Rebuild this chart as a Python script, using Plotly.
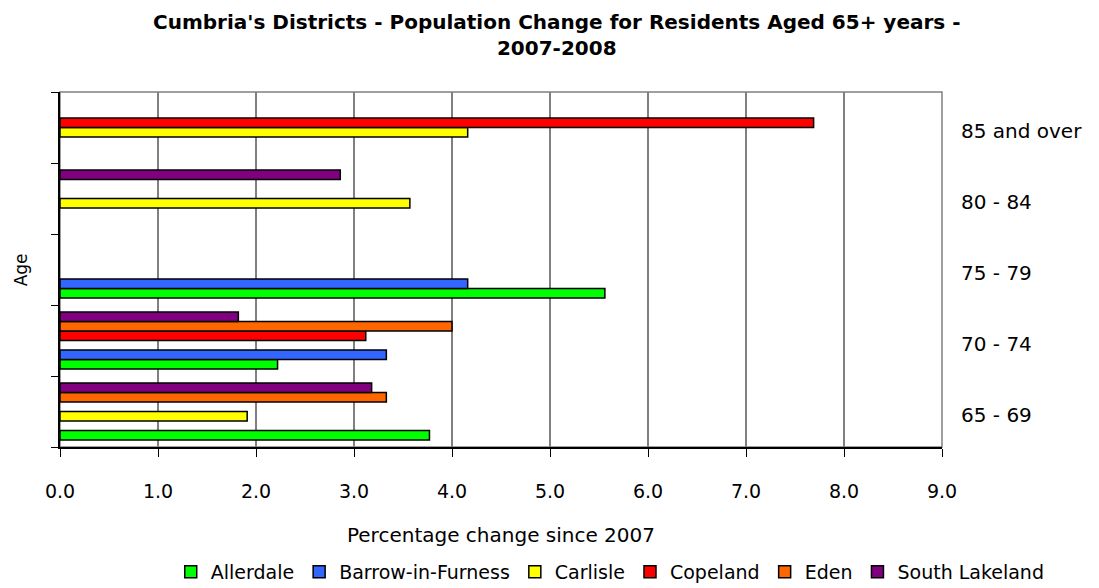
import plotly.graph_objects as go

categories = ["65 - 69", "70 - 74", "75 - 79", "80 - 84", "85 and over"]
districts = ["Allerdale", "Barrow-in-Furness", "Carlisle", "Copeland", "Eden", "South Lakeland"]
allerdale = [3.77, 2.22, 5.56, None, None]
barrow = [None, 3.33, 4.16, None, None]
carlisle = [1.91, None, None, 3.57, 4.16]
copeland = [None, 3.12, None, None, 7.69]
eden = [3.33, 4.00, None, None, None]
south_lakeland = [3.18, 1.82, None, 2.86, None]
series = [allerdale, barrow, carlisle, copeland, eden, south_lakeland]
colors = ["#00FF00", "#3366FF", "#FFFF00", "#FF0000", "#FF6600", "#800080"]
x_ticks = [0, 1, 2, 3, 4, 5, 6, 7, 8, 9]

FONT = "'DejaVu Sans', sans-serif"

fig = go.Figure()
for name, vals, col in zip(districts, series, colors):
    fig.add_trace(go.Bar(
        y=categories, x=vals, name=name, orientation="h",
        marker=dict(color=col, line=dict(color="black", width=1.5)),
    ))

# invisible trace to carry right-side labels
fig.add_trace(go.Scatter(x=[None], y=[None], yaxis="y2", showlegend=False, hoverinfo="skip"))

fig.update_layout(
    width=1091, height=580,
    paper_bgcolor="white", plot_bgcolor="white",
    font=dict(family=FONT, color="black", size=18),
    title=dict(
        text="<b>Cumbria's Districts - Population Change for Residents Aged 65+ years -<br>2007-2008</b>",
        x=0.503, xanchor="center", yref="container", y=0.964, yanchor="top",
        pad=dict(t=0), font=dict(size=20, family=FONT),
    ),
    barmode="group", bargap=0.2, bargroupgap=0,
    margin=dict(l=52, r=157, t=84, b=141, autoexpand=False),
    xaxis=dict(
        range=[0, 9], tickvals=x_ticks, tickformat=".1f",
        showgrid=True, gridcolor="#808080", gridwidth=1.5,
        showline=True, linecolor="black", linewidth=1.5,
        ticks="outside", ticklen=8, tickcolor="black",
        tickfont=dict(size=19), ticklabelstandoff=18,
        zeroline=False, automargin=False,
        title=dict(text="Percentage change since 2007", font=dict(size=20), standoff=27),
    ),
    yaxis=dict(
        type="category", categoryorder="array", categoryarray=categories,
        range=[-0.5, 4.5],
        showticklabels=False, tickson="boundaries",
        ticks="outside", ticklen=7, tickcolor="black",
        showline=True, linecolor="black", linewidth=1.5,
        showgrid=False, automargin=False,
    ),
    yaxis2=dict(
        overlaying="y", side="right", range=[-0.45, 4.55],
        tickvals=[0, 1, 2, 3, 4], ticktext=categories,
        showgrid=False, zeroline=False, showline=False, ticks="",
        tickfont=dict(size=20), ticklabelstandoff=18, automargin=False,
    ),
    legend=dict(
        orientation="h", xref="container", x=0.552, xanchor="center",
        y=-0.352, yanchor="middle",
        traceorder="normal", font=dict(size=19),
        itemwidth=30, tracegroupgap=0,
    ),
    shapes=[dict(
        type="rect", xref="paper", yref="paper", x0=0, x1=1, y0=0, y1=1,
        line=dict(color="#808080", width=1.5), layer="below",
    )],
    annotations=[dict(
        text="Age", xref="paper", yref="paper", x=-0.058, y=0.5,
        xanchor="left", yanchor="middle", textangle=-90, showarrow=False,
        font=dict(size=17),
    )],
)

fig.write_html("out.html")
